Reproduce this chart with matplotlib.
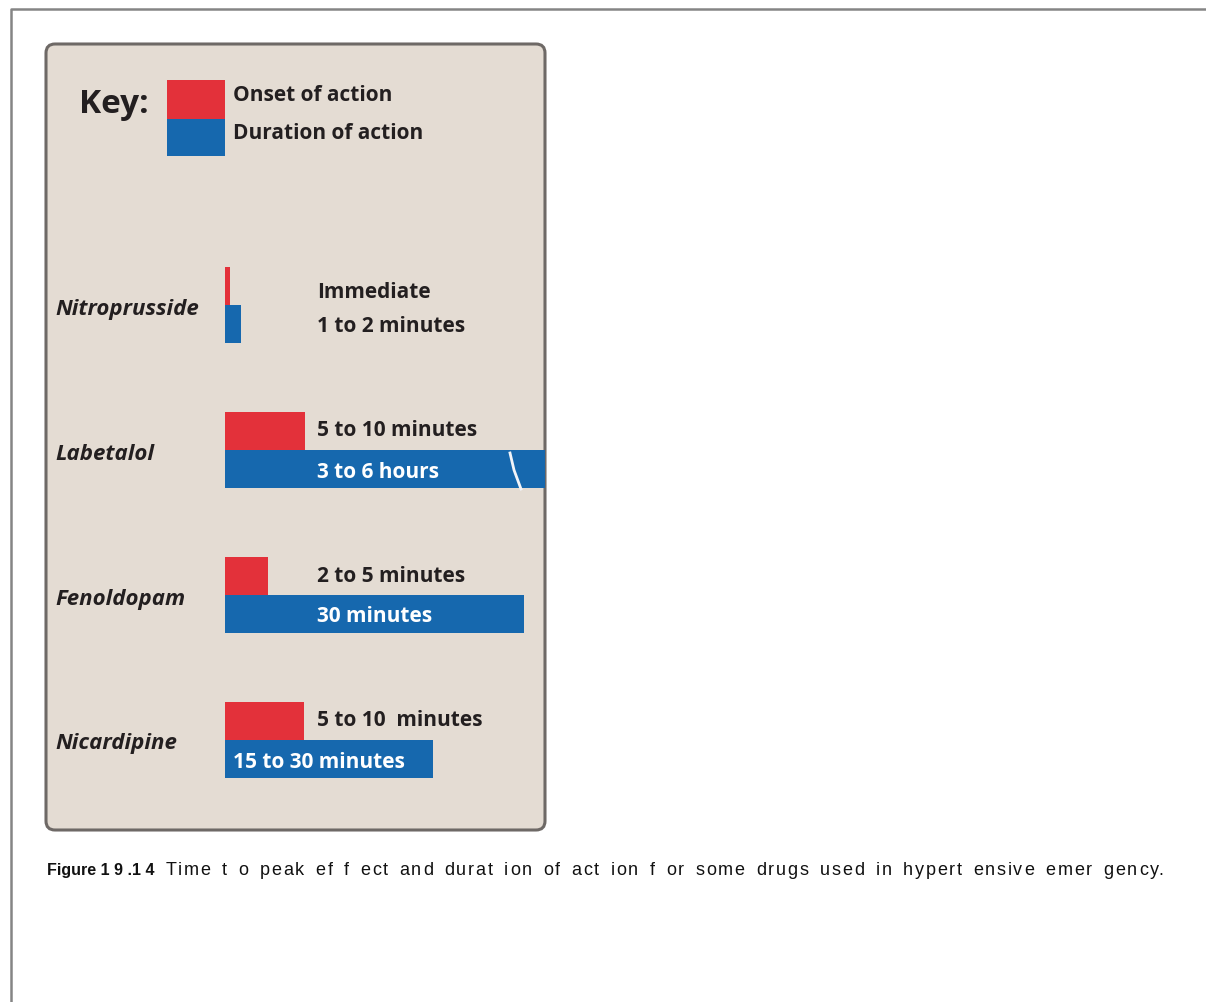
import matplotlib
import matplotlib.pyplot as plt
from matplotlib.patches import FancyBboxPatch
matplotlib.use('Agg')

# schematic bar lengths (same arbitrary units for all rows)
drugs = ['Nitroprusside', 'Labetalol', 'Fenoldopam', 'Nicardipine']
onset_len = [5, 80, 43, 79]
duration_len = [16, 320, 299, 208]
onset_text = ['Immediate', '5 to 10 minutes', '2 to 5 minutes', '5 to 10  minutes']
duration_text = ['1 to 2 minutes', '3 to 6 hours', '30 minutes', '15 to 30 minutes']
broken = [False, True, False, False]

key_labels = ['Onset of action', 'Duration of action']
caption_bold = 'Figure 1 9 .1 4'
caption_rest = 'Time t o peak ef f ect and durat ion of act ion f or some drugs used in hypert ensive emer gency.'

RED = '#e3313a'
BLUE = '#1668ae'
INK = '#231f20'
PANEL = '#e4dcd3'
FONT = 'Open Sans'

fig = plt.figure(figsize=(12.06, 10.02), dpi=100)
ax = fig.add_axes([0, 0, 1, 1])
ax.set_xlim(0, 1206)
ax.set_ylim(1002, 0)
ax.axis('off')

# page frame (top and left edges only)
ax.plot([11, 11, 1206], [1002, 9, 9], color='#858585', lw=1.8, solid_capstyle='butt')

# beige panel
panel = FancyBboxPatch((46, 44), 499, 786, boxstyle='round,pad=0,rounding_size=9',
                       facecolor=PANEL, edgecolor='#6e6966', lw=2.2)
ax.add_patch(panel)

# key
ax.text(79, 104, 'Key:', fontsize=24, fontweight='bold', family=FONT, color=INK, va='center')
ax.bar(196, 39, width=58, bottom=80, color=RED)
ax.bar(196, 37, width=58, bottom=119, color=BLUE)
ax.text(233, 95, key_labels[0], fontsize=15, fontweight='bold', family=FONT, color=INK, va='center')
ax.text(233, 133, key_labels[1], fontsize=15, fontweight='bold', family=FONT, color=INK, va='center')

# drug rows
bar_x0 = 225
label_x = 317
bh = 38
for i, drug in enumerate(drugs):
    split = 305 + i * 145
    ax.text(55, split + 4, drug, fontsize=16, fontweight='bold', style='italic',
            family=FONT, color=INK, va='center')
    ax.barh(split - bh / 2, onset_len[i], height=bh, left=bar_x0, color=RED)
    ax.barh(split + bh / 2, duration_len[i], height=bh, left=bar_x0, color=BLUE)
    dy = -13 if onset_len[i] < 10 else -19
    ax.text(label_x, split + dy, onset_text[i], fontsize=15, fontweight='bold',
            family=FONT, color=INK, va='center')

    end = bar_x0 + duration_len[i]
    t = ax.text(label_x, split + 22, duration_text[i], fontsize=15, fontweight='bold',
                family=FONT, color=INK, va='center')
    if end > label_x:
        t.set_color('white')
        if end < label_x + 180:
            t.set_x(bar_x0 + 8)

    if broken[i]:
        bx = end - 35
        ax.plot([bx, bx + 4, bx + 11], [split + 3, split + 20, split + 39],
                color='#f2f4f8', lw=2.0)

# caption: bold figure number, then the loosely tracked regular text
renderer = fig.canvas.get_renderer()
base_y = 875
cap = ax.text(47, base_y, caption_bold, fontsize=11.5, fontweight='bold',
              family='Liberation Sans', color='#111111', va='baseline')
x0 = cap.get_window_extent(renderer).x1 + 11
track = 1.75
space_extra = 3.0
probe = ax.text(0, 0, '', fontsize=13, family='Liberation Sans')
shift = 0.0
for k, ch in enumerate(caption_rest):
    if ch == ' ':
        shift += space_extra
        continue
    probe.set_text(caption_rest[:k + 1])
    right = probe.get_window_extent(renderer).width
    probe.set_text(ch)
    w = probe.get_window_extent(renderer).width
    ax.text(x0 + right - w + shift + k * track, base_y, ch, fontsize=13,
            family='Liberation Sans', color='#111111', va='baseline')
probe.remove()

fig.savefig('out.png', dpi=100)
